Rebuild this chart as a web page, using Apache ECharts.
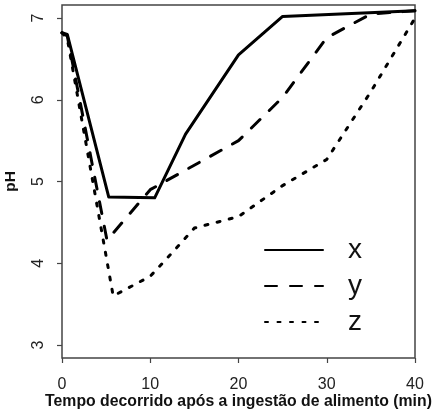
<!DOCTYPE html>
<html>
<head>
<meta charset="utf-8">
<script src="https://cdn.jsdelivr.net/npm/echarts@6/dist/echarts.min.js"></script>
<style>
  html, body { margin: 0; padding: 0; background: #fff; }
  #chart { width: 435px; height: 412px; }
</style>
</head>
<body>
<div id="chart"></div>
<script>
// data
const timeX = [0, 0.6, 5.3, 10.5, 14, 20, 25, 40]
const phX = [6.82, 6.8, 4.81, 4.8, 5.58, 6.55, 7.02, 7.09]

const timeY = [0, 0.6, 5.1, 10, 20, 25, 30, 35, 40]
const phY = [6.82, 6.78, 4.28, 4.9, 5.5, 6.03, 6.76, 7.05, 7.09]

const timeZ = [0, 0.6, 5.8, 10, 12.5, 15, 17.5, 20, 25, 30, 35, 40]
const phZ = [6.82, 6.75, 3.6, 3.84, 4.13, 4.43, 4.5, 4.57, 4.95, 5.27, 6.1, 7.0]

const yTicks = [3, 4, 5, 6, 7]

const pairs = (xs, ys) => xs.map((x, i) => [x, ys[i]])

const font = 'Liberation Sans, Arial, Helvetica, sans-serif'

const chart = echarts.init(document.getElementById('chart'), null, { renderer: 'canvas' })

function lineSeries (name, xs, ys, type) {
  return {
    name: name,
    type: 'line',
    data: pairs(xs, ys),
    symbol: 'none',
    showSymbol: false,
    animation: false,
    itemStyle: { color: '#000' },
    lineStyle: { color: '#000', width: 3, type: type, cap: 'round', join: 'round' }
  }
}

chart.setOption({
  animation: false,
  grid: {
    left: 62, right: 20, top: 5, bottom: 54,
    outerBoundsMode: 'none',
    show: true, borderColor: '#444', borderWidth: 1.5, backgroundColor: 'transparent'
  },
  xAxis: {
    type: 'value',
    min: 0, max: 40, interval: 10,
    name: 'Tempo decorrido após a ingestão de alimento (min)',
    nameLocation: 'middle',
    nameGap: 36,
    nameMoveOverlap: false,
    nameTextStyle: { fontFamily: font, fontWeight: 'bold', fontSize: 15.8, color: '#111' },
    axisLine: { show: false },
    axisTick: { show: true, inside: false, length: 5, lineStyle: { color: '#444', width: 1.2 } },
    axisLabel: { fontFamily: font, fontSize: 16, color: '#222', margin: 19 },
    splitLine: { show: false }
  },
  yAxis: {
    type: 'value',
    min: 2.84, max: 7.16,
    name: 'pH',
    nameLocation: 'middle',
    nameRotate: 90,
    nameGap: 43,
    nameMoveOverlap: false,
    nameTextStyle: { fontFamily: font, fontWeight: 'bold', fontSize: 15.5, color: '#111' },
    axisLine: { show: false },
    axisTick: { show: true, length: 5, customValues: yTicks, lineStyle: { color: '#444', width: 1.2 } },
    axisLabel: {
      fontFamily: font, fontSize: 16, color: '#222',
      rotate: 90, align: 'center', verticalAlign: 'bottom',
      margin: 15, customValues: yTicks
    },
    splitLine: { show: false }
  },
  legend: {
    orient: 'vertical',
    left: 259, top: 231,
    itemWidth: 58, itemHeight: 14, itemGap: 8,
    itemStyle: { opacity: 0 },
    textStyle: { fontFamily: font, fontSize: 28, color: '#111', padding: [0, 0, 4, 20] },
    data: ['x', 'y', 'z']
  },
  series: [
    lineSeries('x', timeX, phX, 'solid'),
    lineSeries('y', timeY, phY, [12, 13]),
    lineSeries('z', timeZ, phZ, [3, 9.5])
  ]
})
</script>
</body>
</html>
